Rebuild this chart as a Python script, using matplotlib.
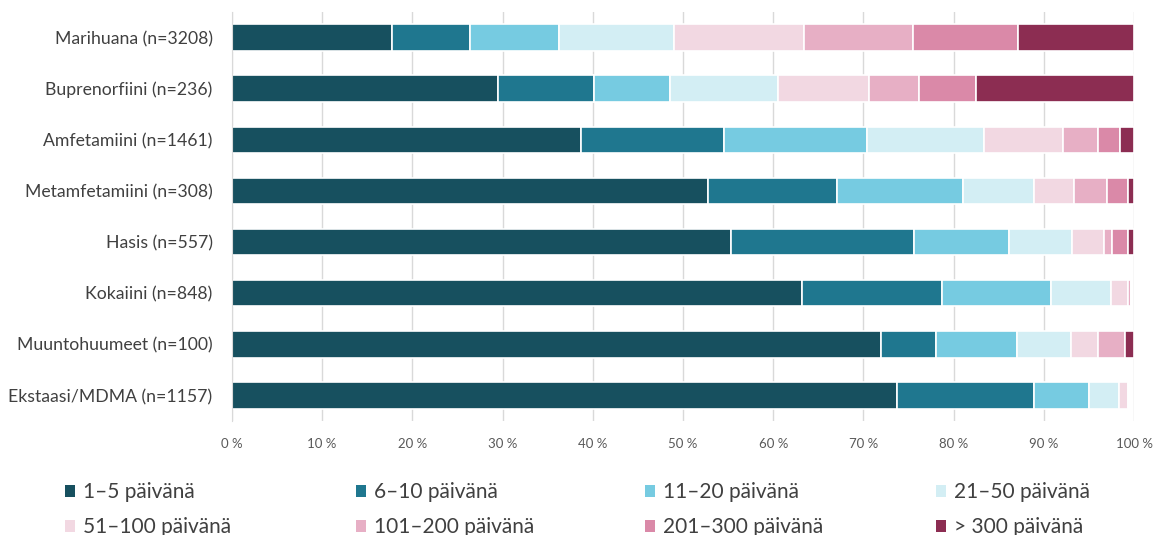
import numpy as np
import matplotlib.pyplot as plt
from matplotlib.patches import Patch
from matplotlib.ticker import FuncFormatter

plt.rcParams['font.family'] = ['Lato', 'DejaVu Sans']

aineet = ['Marihuana (n=3208)', 'Buprenorfiini (n=236)', 'Amfetamiini (n=1461)',
          'Metamfetamiini (n=308)', 'Hasis (n=557)', 'Kokaiini (n=848)',
          'Muuntohuumeet (n=100)', 'Ekstaasi/MDMA (n=1157)']

luokat = ['1–5 päivänä', '6–10 päivänä', '11–20 päivänä', '21–50 päivänä',
          '51–100 päivänä', '101–200 päivänä', '201–300 päivänä', '> 300 päivänä']

# osuudet (%) per aine, luokkien järjestyksessä
p1_5     = [17.7, 29.5, 38.7, 52.8, 55.3, 63.2, 72.0, 73.7]
p6_10    = [8.7, 10.6, 15.8, 14.3, 20.3, 15.5, 6.0, 15.2]
p11_20   = [9.9, 8.5, 15.9, 13.9, 10.5, 12.1, 9.0, 6.1]
p21_50   = [12.7, 11.9, 13.0, 7.9, 7.0, 6.6, 6.0, 3.3]
p51_100  = [14.4, 10.1, 8.7, 4.5, 3.6, 1.9, 3.0, 1.0]
p101_200 = [12.1, 5.6, 3.9, 3.6, 0.9, 0.4, 3.0, 0.0]
p201_300 = [11.6, 6.3, 2.4, 2.3, 1.7, 0.0, 0.0, 0.0]
p300     = [12.9, 17.5, 1.6, 0.7, 0.7, 0.0, 1.0, 0.0]

sarjat = [p1_5, p6_10, p11_20, p21_50, p51_100, p101_200, p201_300, p300]
varit = ['#17505F', '#1F778F', '#76CBE1', '#D3EEF4',
         '#F2D8E2', '#E7AFC5', '#DA89A8', '#8C2D52']

fig = plt.figure(figsize=(11.58, 5.35), dpi=100)
ax = fig.add_axes([0.2003, 0.2131, 0.779, 0.7645])

y = np.arange(len(aineet))
vasen = np.zeros(len(aineet))
for arvot, vari in zip(sarjat, varit):
    arvot = np.array(arvot)
    ax.barh(y, arvot, left=vasen, height=0.52, color=vari,
            edgecolor='white', linewidth=1.2, zorder=3)
    vasen += arvot

ax.set_xlim(0, 100)
ax.set_ylim(len(aineet) - 0.5, -0.5)
ax.set_yticks(y)
ax.set_yticklabels(aineet, fontsize=12.7, color='#404040')
ax.set_xticks(np.arange(0, 101, 10))
ax.xaxis.set_major_formatter(FuncFormatter(lambda v, _: f'{int(v)} %'))
ax.tick_params(axis='x', labelsize=9.5, labelcolor='#595959', length=0, pad=12)
ax.tick_params(axis='y', length=0, pad=14)
ax.grid(axis='x', color='#D9D9D9', linewidth=1, zorder=0)
for s in ['top', 'right', 'bottom']:
    ax.spines[s].set_visible(False)
ax.spines['left'].set_color('#D9D9D9')
ax.spines['left'].set_zorder(4)

# legenda tasavälisinä sarakkeina, kaksi riviä
sarake_x = [65, 356, 645, 936]
for k, x0 in enumerate(sarake_x):
    idx = [k, k + 4]
    leg = fig.legend([Patch(facecolor=varit[i], edgecolor='none') for i in idx],
                     [luokat[i] for i in idx],
                     loc='upper left', bbox_to_anchor=(x0 / 1158, 0.099),
                     frameon=False, fontsize=15, labelcolor='#404040',
                     handlelength=0.5, handleheight=0.5, handletextpad=0.35,
                     labelspacing=0.72, borderpad=0, borderaxespad=0)

fig.savefig('out.png', dpi=100)
